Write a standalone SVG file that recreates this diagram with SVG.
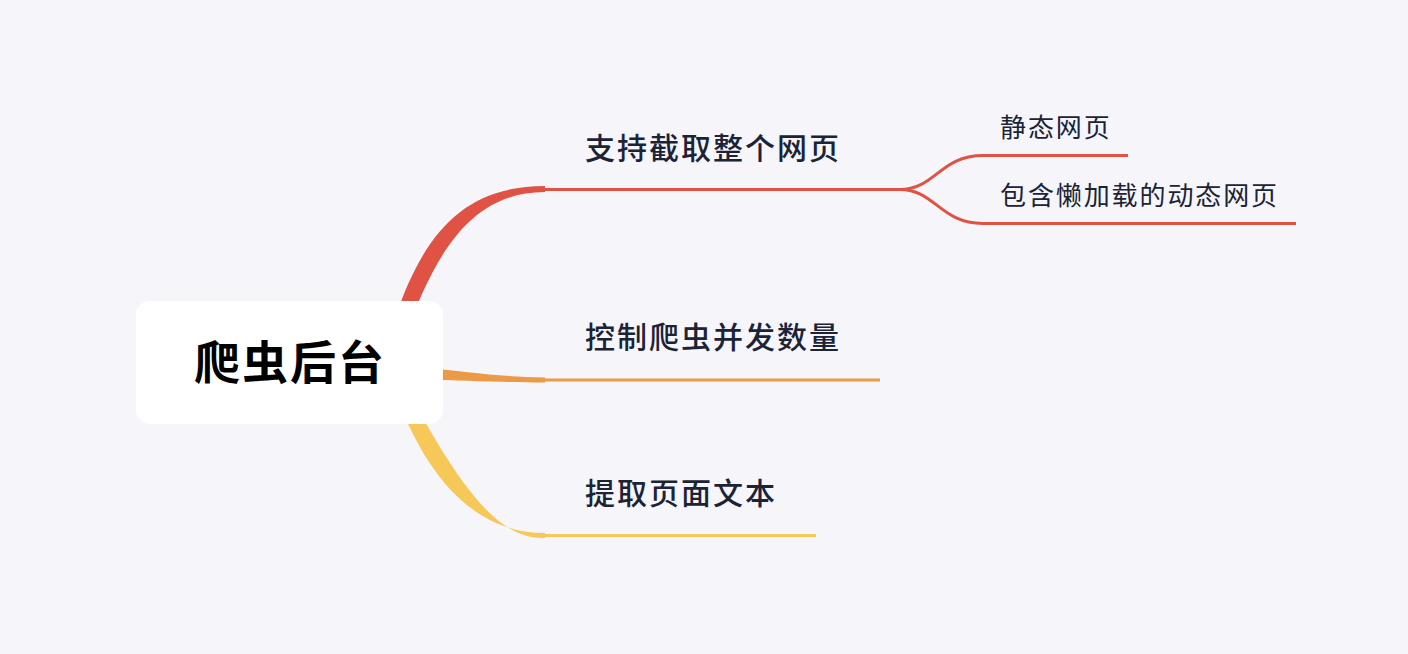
<svg xmlns="http://www.w3.org/2000/svg" width="1408" height="654" viewBox="0 0 1408 654">
<style>
.t1{font-family:"Noto Sans CJK SC","Noto Sans",sans-serif;font-size:30px;font-weight:500;fill:#1b2336;letter-spacing:2px}
.t2{font-family:"Noto Sans CJK SC","Noto Sans",sans-serif;font-size:26px;fill:#1b2336;letter-spacing:1.9px}
.root{font-family:"Noto Sans CJK SC","Noto Sans",sans-serif;font-size:46px;font-weight:bold;fill:#000;letter-spacing:2px}
.ln{fill:none;stroke-width:3}
</style>
<rect width="1408" height="654" fill="#f5f5fa"/>
<g id="connectors">
  <path d="M388,340 C418,240 458,186 545,186 L545,192 C474,192 436,248 404,340 Z" fill="#e05243"/>
  <path class="ln" stroke="#e05243" d="M544,189.5 L903,189.5"/>
  <path class="ln" stroke="#e05243" d="M900,189.5 C935,189.5 940,155.5 983,155.5 L1128,155.5"/>
  <path class="ln" stroke="#e05243" d="M900,189.5 C935,189.5 940,223.5 983,223.5 L1296,223.5"/>
  <path d="M420,367 C470,372 500,377 545,377.5 L545,382.5 C500,382 470,381 420,379 Z" fill="#ec9a45"/>
  <path class="ln" stroke="#ec9a45" d="M544,380 L880,380"/>
  <path d="M398,400 C425,470 470,533 545,533 L545,538 C505,539 470,505 413,400 Z" fill="#f6c857"/>
  <path class="ln" stroke="#f6c857" d="M544,535.5 L816,535.5"/>
</g>
<g id="root">
  <rect x="136" y="301" width="307" height="123" rx="14" fill="#ffffff"/>
  <text class="root" x="290" y="379" text-anchor="middle">爬虫后台</text>
</g>
<g id="n1"><text class="t1" x="585" y="159">支持截取整个网页</text></g>
<g id="n1a"><text class="t2" x="1000" y="137">静态网页</text></g>
<g id="n1b"><text class="t2" x="1000" y="205">包含懒加载的动态网页</text></g>
<g id="n2"><text class="t1" x="585" y="348">控制爬虫并发数量</text></g>
<g id="n3"><text class="t1" x="585" y="504">提取页面文本</text></g>
</svg>
